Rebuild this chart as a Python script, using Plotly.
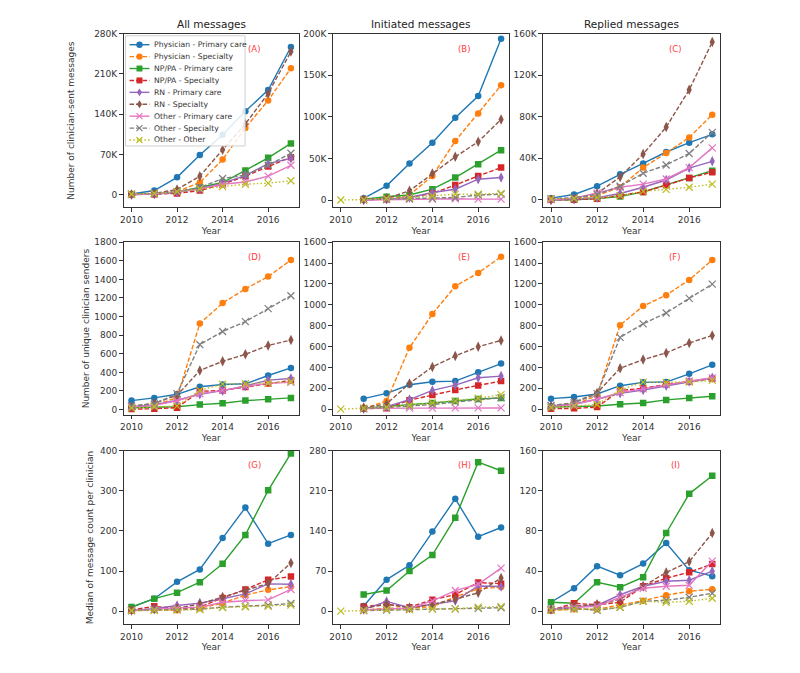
import plotly.graph_objects as go

years = [2010, 2011, 2012, 2013, 2014, 2015, 2016, 2017]

series_names = ["Physician - Primary care", "Physician - Specialty", "NP/PA - Primary care",
                "NP/PA - Specialty", "RN - Primary care", "RN - Specialty",
                "Other - Primary care", "Other - Specialty", "Other - Other"]

N = None
# Row 1: number of clinician-sent messages
sent_all = [
    [1000, 7000, 30000, 69000, 104000, 145000, 182000, 257000],
    [0, 1000, 5000, 21000, 61000, 116000, 164000, 220000],
    [0, 1000, 4000, 12000, 21000, 42000, 64000, 89000],
    [0, 500, 2000, 7000, 18000, 32000, 49000, 65000],
    [0, 1000, 4000, 10000, 20000, 33000, 54000, 63000],
    [0, 2000, 9000, 32000, 78000, 123000, 176000, 249000],
    [0, 1000, 5000, 10000, 18000, 22000, 32000, 51000],
    [1000, 2000, 5000, 12000, 28000, 34000, 51000, 72000],
    [1000, 2000, 5000, 10000, 14000, 18000, 20000, 24000],
]
sent_init = [
    [N, 2000, 17000, 44000, 69000, 99000, 125000, 194000],
    [N, 500, 1000, 6000, 29000, 71000, 104000, 138000],
    [N, 1000, 4000, 6000, 13000, 27000, 43000, 60000],
    [N, 500, 1000, 3000, 8000, 18000, 29000, 39000],
    [N, 0, 1000, 3000, 9000, 13000, 25000, 27000],
    [N, 500, 2000, 11000, 32000, 52000, 70000, 97000],
    [N, 0, 500, 1000, 1000, 1500, 1000, 1000],
    [N, 500, 1000, 1500, 2000, 3000, 6000, 7000],
    [0, 500, 2000, 3000, 5000, 7000, 7000, 8000],
]
sent_repl = [
    [1500, 5000, 13000, 24500, 35000, 46000, 55000, 63000],
    [0, 1000, 4000, 12000, 31000, 45000, 60000, 82000],
    [0, 0, 1000, 3000, 7500, 14500, 21000, 28000],
    [0, 0, 1000, 4000, 7500, 14000, 21000, 26500],
    [0, 500, 2000, 6000, 12000, 19000, 30500, 37000],
    [0, 1000, 6000, 22000, 44000, 70000, 106000, 152000],
    [0, 1500, 6500, 12000, 15000, 20000, 31000, 50000],
    [1000, 2000, 5000, 13000, 25500, 33500, 44600, 65000],
    [1000, 1000, 2000, 4000, 8000, 10000, 12000, 15000],
]
# Row 2: number of unique clinician senders
senders_all = [
    [96, 125, 164, 245, 270, 277, 366, 448],
    [18, 46, 128, 925, 1145, 1298, 1430, 1608],
    [20, 25, 30, 53, 68, 96, 110, 125],
    [5, 8, 20, 196, 206, 242, 281, 313],
    [30, 50, 100, 164, 203, 253, 317, 334],
    [30, 70, 153, 420, 519, 594, 690, 747],
    [30, 45, 95, 170, 206, 249, 281, 292],
    [40, 60, 170, 700, 840, 946, 1085, 1224],
    [15, 30, 40, 206, 274, 277, 285, 302],
]
senders_init = [
    [N, 101, 152, 234, 263, 269, 355, 437],
    [N, 5, 79, 589, 912, 1178, 1305, 1461],
    [N, 10, 25, 44, 60, 79, 98, 108],
    [N, 5, 10, 86, 136, 184, 228, 269],
    [N, 5, 25, 92, 180, 231, 301, 317],
    [N, 15, 50, 247, 405, 510, 599, 659],
    [N, 5, 10, 10, 10, 12, 12, 12],
    [N, 5, 15, 30, 45, 70, 90, 110],
    [0, 10, 20, 38, 60, 79, 105, 139],
]
senders_repl = [
    [101, 117, 146, 225, 257, 260, 339, 425],
    [15, 40, 133, 805, 989, 1093, 1239, 1429],
    [20, 25, 30, 48, 60, 89, 108, 124],
    [5, 8, 20, 180, 200, 238, 263, 292],
    [30, 50, 95, 152, 184, 225, 266, 301],
    [25, 65, 155, 393, 475, 539, 634, 707],
    [30, 45, 95, 160, 195, 235, 270, 300],
    [35, 60, 149, 688, 818, 922, 1062, 1198],
    [15, 30, 45, 184, 260, 257, 260, 276],
]
# Row 3: median of message count per clinician
median_all = [
    [10, 31, 73, 104, 182, 258, 168, 190],
    [1, 3, 2, 7, 20, 40, 53, 61],
    [10, 31, 46, 72, 118, 190, 301, 393],
    [3, 12, 6, 10, 33, 54, 78, 86],
    [2, 6, 14, 20, 31, 43, 68, 67],
    [2, 5, 7, 18, 35, 51, 69, 120],
    [1, 5, 8, 10, 22, 26, 28, 54],
    [2, 3, 3, 5, 10, 12, 15, 19],
    [1, 2, 3, 4, 9, 11, 12, 15],
]
median_init = [
    [N, 9, 55, 80, 139, 196, 130, 146],
    [N, 2, 5, 5, 8, 25, 39, 42],
    [N, 29, 36, 70, 98, 163, 260, 245],
    [N, 8, 12, 7, 20, 29, 50, 48],
    [N, 3, 17, 6, 12, 18, 44, 43],
    [N, 5, 12, 6, 12, 21, 32, 58],
    [N, 2, 3, 5, 18, 36, 47, 75],
    [N, 1, 2, 3, 4, 4, 5, 6],
    [0, 1, 3, 3, 4, 4, 7, 8],
]
median_repl = [
    [9, 23, 45, 36, 47.5, 68, 41, 35],
    [1, 2, 2, 6, 10.5, 16, 20, 22],
    [9, 8, 29, 24, 34, 78, 117, 135],
    [1, 8, 6.5, 9, 25, 33, 39, 47],
    [2, 4, 6, 16.5, 25, 30, 31, 40],
    [2, 5, 7, 12, 25, 38.6, 49.5, 78],
    [2, 4, 5, 14, 23, 25, 26, 50],
    [2, 3, 1, 4, 10, 11, 14, 18],
    [1, 2, 2, 4, 10, 9, 10, 13],
]

col_titles = ["All messages", "Initiated messages", "Replied messages"]
row_titles = ["Number of clinician-sent messages", "Number of unique clinician senders",
              "Median of message count per clinician"]
panel_labels = ["(A)", "(B)", "(C)", "(D)", "(E)", "(F)", "(G)", "(H)", "(I)"]

panels = [sent_all, sent_init, sent_repl,
          senders_all, senders_init, senders_repl,
          median_all, median_init, median_repl]

yticks = [
    ([0, 70000, 140000, 210000, 280000], ["0", "70K", "140K", "210K", "280K"]),
    ([0, 50000, 100000, 150000, 200000], ["0", "50K", "100K", "150K", "200K"]),
    ([0, 40000, 80000, 120000, 160000], ["0", "40K", "80K", "120K", "160K"]),
    (list(range(0, 1801, 200)), None),
    (list(range(0, 1601, 200)), None),
    (list(range(0, 1601, 200)), None),
    ([0, 100, 200, 300, 400], None),
    ([0, 70, 140, 210, 280], None),
    ([0, 40, 80, 120, 160], None),
]
yranges = [[-22500, 280000], [-9000, 200000], [-7500, 160000],
           [-58, 1800], [-55, 1600], [-55, 1600],
           [-33, 400], [-23, 280], [-13, 160]]

colors = ["#1f77b4", "#ff7f0e", "#2ca02c", "#d62728", "#9467bd",
          "#8c564b", "#e377c2", "#7f7f7f", "#bcbd22"]
dashes = ["solid", "4.5px,2px", "solid", "4.5px,2px", "solid", "4.5px,2px",
          "solid", "4.5px,2px", "1.5px,2.2px"]
symbols = ["circle", "circle", "square", "square", "diamond-tall", "diamond-tall",
           "x-thin", "x-thin", "x-thin"]
msizes = [6.5, 6.5, 6.5, 6.5, 7.5, 7.5, 7, 7, 7]

W, H = 800, 673


def px(x):
    return x / W


def py(y):
    return 1 - y / H


col_dom = [(px(121), px(297)), (px(331), px(508)), (px(542), px(720))]
row_dom = [(py(204), py(29)), (py(413), py(239)), (py(624), py(449))]
ytitle_standoff = [17, 3, 4]

fig = go.Figure()
layout = dict(
    width=W, height=H,
    margin=dict(l=0, r=0, t=0, b=0),
    paper_bgcolor="white", plot_bgcolor="white",
    font=dict(family="DejaVu Sans", size=9, color="#333"),
    showlegend=False,
)
annotations = []
shapes = []

for p in range(9):
    r, c = divmod(p, 3)
    idx = p + 1
    xa = "x" if idx == 1 else f"x{idx}"
    ya = "y" if idx == 1 else f"y{idx}"
    xkey = "xaxis" if idx == 1 else f"xaxis{idx}"
    ykey = "yaxis" if idx == 1 else f"yaxis{idx}"
    data = panels[p]
    for s in range(9):
        sym = symbols[s]
        is_x = sym == "x-thin"
        fig.add_trace(go.Scatter(
            x=years, y=data[s], xaxis=xa, yaxis=ya,
            mode="lines+markers", name=series_names[s],
            connectgaps=False,
            line=dict(color=colors[s], width=1.4, dash=dashes[s]),
            marker=dict(symbol=sym, size=msizes[s], color=colors[s],
                        line=dict(color=colors[s], width=1.2 if is_x else 0)),
        ))
    layout[xkey] = dict(
        domain=list(col_dom[c]), anchor=ya, range=[2009.65, 2017.35],
        tickvals=[2010, 2012, 2014, 2016], ticks="outside", ticklen=3.5,
        tickcolor="#333", showline=True, linecolor="#333", linewidth=1, mirror=True,
        showgrid=False, zeroline=False, tickfont=dict(size=9, color="#333"),
        title=dict(text="Year", font=dict(size=9, color="#333"), standoff=3),
    )
    tv, tt = yticks[p]
    yax = dict(
        domain=list(row_dom[r]), anchor=xa, range=yranges[p],
        tickvals=tv, ticks="outside", ticklen=3.5, tickcolor="#333",
        showline=True, linecolor="#333", linewidth=1, mirror=True,
        showgrid=False, zeroline=False, tickfont=dict(size=9, color="#333"),
    )
    if tt is not None:
        yax["ticktext"] = tt
    if c == 0:
        yax["title"] = dict(text=row_titles[r], font=dict(size=9, color="#333"),
                            standoff=ytitle_standoff[r])
    layout[ykey] = yax
    annotations.append(dict(
        text=panel_labels[p], xref=xa, yref=f"{ya} domain", x=2015.4, y=0.915,
        showarrow=False, font=dict(size=8.5, color="#ff3b3b"), xanchor="center", yanchor="middle"))
    if r == 0:
        annotations.append(dict(
            text=col_titles[c], xref=f"{xa} domain", yref=f"{ya} domain", x=0.5, y=1,
            yanchor="bottom", yshift=2, showarrow=False, font=dict(size=10.5, color="#222")))

# Legend box (drawn inside panel A, top-left, like the reference)
leg_l, leg_t, leg_r, leg_b = 123, 31, 243, 142
shapes.append(dict(type="rect", xref="paper", yref="paper", layer="above",
                   x0=px(leg_l), x1=px(leg_r), y0=py(leg_b), y1=py(leg_t),
                   fillcolor="rgba(255,255,255,0.85)", line=dict(color="#d0d0d0", width=1)))
for s in range(9):
    cy = 40 + 12 * s
    col = colors[s]
    shapes.append(dict(type="line", xref="paper", yref="paper", layer="above",
                       x0=px(127), x1=px(147), y0=py(cy), y1=py(cy),
                       line=dict(color=col, width=1.4, dash=dashes[s])))
    cx = 137
    sym = symbols[s]
    if sym == "circle":
        shapes.append(dict(type="circle", xref="paper", yref="paper", layer="above",
                           x0=px(cx - 3.2), x1=px(cx + 3.2), y0=py(cy + 3.2), y1=py(cy - 3.2),
                           fillcolor=col, line=dict(width=0)))
    elif sym == "square":
        shapes.append(dict(type="rect", xref="paper", yref="paper", layer="above",
                           x0=px(cx - 3), x1=px(cx + 3), y0=py(cy + 3), y1=py(cy - 3),
                           fillcolor=col, line=dict(width=0)))
    elif sym == "diamond-tall":
        path = (f"M {px(cx)},{py(cy - 4)} L {px(cx + 2.6)},{py(cy)} "
                f"L {px(cx)},{py(cy + 4)} L {px(cx - 2.6)},{py(cy)} Z")
        shapes.append(dict(type="path", xref="paper", yref="paper", layer="above",
                           path=path, fillcolor=col, line=dict(width=0)))
    else:
        d = 3
        path = (f"M {px(cx - d)},{py(cy - d)} L {px(cx + d)},{py(cy + d)} "
                f"M {px(cx - d)},{py(cy + d)} L {px(cx + d)},{py(cy - d)}")
        shapes.append(dict(type="path", xref="paper", yref="paper", layer="above",
                           path=path, line=dict(color=col, width=1.2)))
    annotations.append(dict(text=series_names[s], xref="paper", yref="paper",
                            x=px(150), y=py(cy), xanchor="left", yanchor="middle",
                            showarrow=False, font=dict(size=7.7, color="#333")))

layout["annotations"] = annotations
layout["shapes"] = shapes
fig.update_layout(**layout)
fig.write_html("out.html", config={"displayModeBar": False},
               post_script="document.body.style.margin='0px';")
